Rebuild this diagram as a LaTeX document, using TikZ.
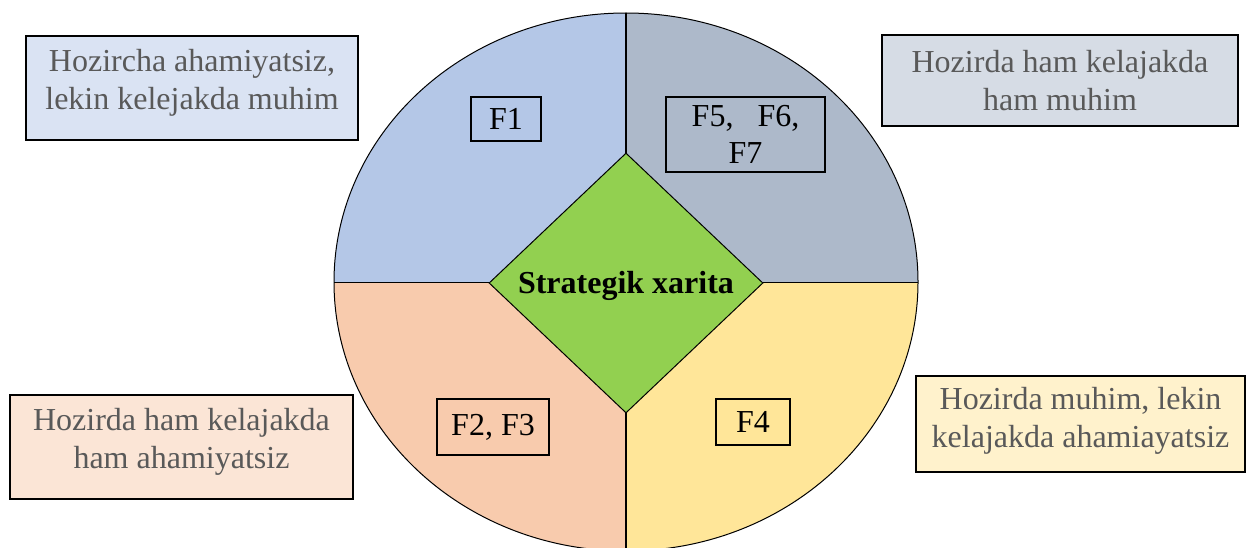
\documentclass[tikz,border=0pt]{standalone}
\usepackage{fontspec}
\setmainfont{Liberation Serif}
\usepackage{tikz}
\usetikzlibrary{shapes.geometric}

\definecolor{qblue}{HTML}{B4C7E7}
\definecolor{qgray}{HTML}{ADB9CA}
\definecolor{qpeach}{HTML}{F8CBAD}
\definecolor{qyellow}{HTML}{FFE699}
\definecolor{lblue}{HTML}{DAE3F3}
\definecolor{lgray}{HTML}{D6DCE5}
\definecolor{lpeach}{HTML}{FBE5D6}
\definecolor{lyellow}{HTML}{FFF2CC}
\definecolor{dgreen}{HTML}{92D050}
\definecolor{txtgray}{HTML}{595959}

\begin{document}
\begin{tikzpicture}[x=1pt, y=1pt,
  labelbox/.style={draw, line width=1.8pt, inner sep=0pt},
  labeltext/.style={align=center, text=txtgray, font=\fontsize{32}{38}\selectfont, inner sep=0pt},
  fbox/.style={draw, line width=1.4pt, align=center,
               font=\fontsize{32}{37}\selectfont, inner sep=0pt},
]
\useasboundingbox (0,0) rectangle (1247,-548);
\clip (0,0) rectangle (1247,-548);

% Quadrants
\fill[qblue]   (626,-282) -- (334,-282) arc[start angle=180, end angle=90, x radius=292, y radius=269] -- cycle;
\fill[qgray]   (626,-282) -- (626,-13) arc[start angle=90, end angle=0, x radius=292, y radius=269] -- cycle;
\fill[qyellow] (626,-282) -- (918,-282) arc[start angle=0, end angle=-90, x radius=292, y radius=269] -- cycle;
\fill[qpeach]  (626,-282) -- (626,-551) arc[start angle=-90, end angle=-180, x radius=292, y radius=269] -- cycle;
\draw[line width=1pt] (626,-282) ellipse[x radius=292, y radius=269];
\draw[line width=1.4pt] (626,-13) -- (626,-551);
\draw[line width=1pt] (334,-282) -- (918,-282);

% Markaz
\node[diamond, draw, line width=1pt, fill=dgreen, minimum width=274pt, minimum height=260pt,
      inner sep=0pt] (map) at (626,-283) {};
\node[font=\fontsize{32}{37}\selectfont\bfseries, inner sep=0pt] (maptext) at ([yshift=-3pt]map.center) {Strategik xarita};

% Omillar
\node[fbox, fill=qblue,   minimum width=70pt,  minimum height=44pt] (f1)  at (506,-119) {F1};
\node[fbox, fill=qgray,   minimum width=159pt, minimum height=75pt] (f5)  at (745.5,-134.5) {F5,\ \ \ F6,\\F7};
\node[fbox, fill=qpeach,  minimum width=112pt, minimum height=56pt] (f2)  at (493,-427) {F2, F3};
\node[fbox, fill=qyellow, minimum width=74pt,  minimum height=46pt] (f4)  at (753,-422) {F4};

% Izohlar
\node[labelbox, fill=lblue,   minimum width=332pt, minimum height=104pt] (tl) at (192,-88) {};
\node[labelbox, fill=lgray,   minimum width=356pt, minimum height=91pt]  (tr) at (1060,-80.5) {};
\node[labelbox, fill=lpeach,  minimum width=343pt, minimum height=104pt] (bl) at (181.5,-447) {};
\node[labelbox, fill=lyellow, minimum width=329pt, minimum height=96pt]  (br) at (1080.5,-424) {};
\node[labeltext] (tltext) at ([yshift=5pt]tl.center) {Hozircha ahamiyatsiz,\\lekin kelejakda muhim};
\node[labeltext] (trtext) at (tr.center) {Hozirda ham kelajakda\\ham muhim};
\node[labeltext] (bltext) at ([yshift=5pt]bl.center) {Hozirda ham kelajakda\\ham ahamiyatsiz};
\node[labeltext] (brtext) at ([yshift=3pt]br.center) {Hozirda muhim, lekin\\kelajakda ahamiayatsiz};
\end{tikzpicture}
\end{document}
